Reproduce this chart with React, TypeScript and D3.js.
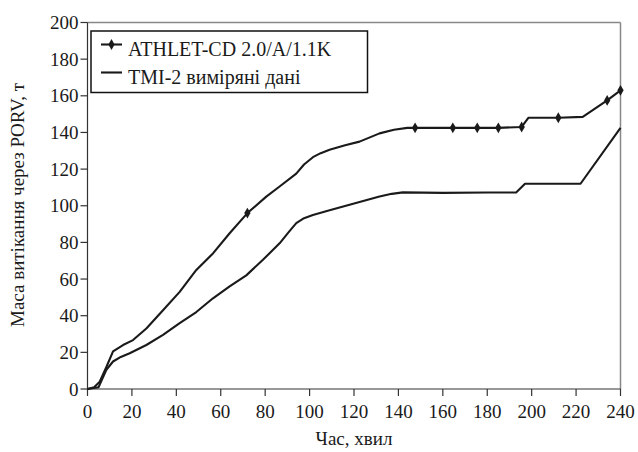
import React from "react";
import * as d3 from "d3";

const xTicks = [0, 20, 40, 60, 80, 100, 120, 140, 160, 180, 200, 220, 240];
const yTicks = [0, 20, 40, 60, 80, 100, 120, 140, 160, 180, 200];

const athletTime = [0, 3, 5.5, 8.5, 11.5, 16, 20.5, 26.5, 34, 41.5, 49, 56.5, 64, 72, 80.5, 86.5, 94, 97.5, 101.5, 105, 109, 116, 122.5, 131.5, 138, 144, 147.5, 164.5, 175.5, 185, 195.5, 198.5, 212, 223, 234, 240];
const athletMass = [0, 1, 4, 12, 20.5, 24, 26.7, 33, 43, 53, 65, 74, 85, 96, 105, 110.5, 117.5, 122.5, 126.5, 128.7, 130.5, 133, 135, 139.5, 141.5, 142.5, 142.5, 142.5, 142.5, 142.5, 143, 148, 148, 148.5, 157.5, 163];
const athletMarkTime = [72, 147.5, 164.5, 175.5, 185, 195.5, 212, 234, 240];
const athletMarkMass = [96, 142.5, 142.5, 142.5, 142.5, 143, 148, 157.5, 163];

const tmiTime = [0, 5, 8.5, 11.5, 15, 19, 26.5, 34, 41.5, 49, 56.5, 64, 71.5, 79, 86.5, 90.5, 94, 97.5, 101.5, 109, 122.5, 131.5, 137, 142, 160, 180, 193, 197, 210, 222, 240];
const tmiMass = [0, 1, 10.5, 15, 17.5, 19.5, 24, 29.5, 36, 42, 49.5, 56, 62, 70.5, 79.5, 85.5, 90.5, 93.2, 95, 97.5, 102, 105, 106.5, 107.3, 107, 107.2, 107.2, 112, 112, 112, 142.5];

const legendLabels = ["ATHLET-CD 2.0/A/1.1K", "TMI-2 виміряні дані"];
const xTitle = "Час, хвил";
const yTitle = "Маса витікання через PORV, т";

const FONT = "'Liberation Serif', 'Times New Roman', serif";

export default function App() {
  const W = 638, H = 452;
  const x = d3.scaleLinear().domain([0, 240]).range([87.5, 620.5]);
  const y = d3.scaleLinear().domain([0, 200]).range([389, 22.5]);
  const line = d3.line<[number, number]>().x(d => x(d[0])).y(d => y(d[1]));
  const athlet = athletTime.map((t, i) => [t, athletMass[i]] as [number, number]);
  const tmi = tmiTime.map((t, i) => [t, tmiMass[i]] as [number, number]);
  const diamond = d3.symbol().type(d3.symbolDiamond).size(34)() as string;
  const ink = "#1a1a1a";

  return (
    <svg width={W} height={H} style={{ position: "absolute", left: 0, top: 0, background: "#fff" }} fontFamily={FONT}>
      {/* frame */}
      <line x1={x(0)} x2={x(240)} y1={y(200)} y2={y(200)} stroke="#888" strokeWidth={1.5} />
      <line x1={x(240)} x2={x(240)} y1={y(200)} y2={y(0)} stroke="#888" strokeWidth={1.5} />
      <line x1={x(0)} x2={x(0)} y1={y(200)} y2={y(0)} stroke="#333" strokeWidth={1.2} />
      <line x1={x(0)} x2={x(240)} y1={y(0)} y2={y(0)} stroke="#333" strokeWidth={1.2} />
      {yTicks.map(v => (
        <g key={"y" + v}>
          <line x1={x(0) - 7} x2={x(0)} y1={y(v)} y2={y(v)} stroke="#333" strokeWidth={1.2} />
          <text x={x(0) - 9} y={y(v)} dy="0.35em" textAnchor="end" fontSize={19} fill={ink}>{v}</text>
        </g>
      ))}
      {xTicks.map(v => (
        <g key={"x" + v}>
          <line x1={x(v)} x2={x(v)} y1={y(0)} y2={y(0) + 7} stroke="#333" strokeWidth={1.2} />
          <text x={x(v)} y={418} textAnchor="middle" fontSize={19} fill={ink}>{v}</text>
        </g>
      ))}
      <text x={354} y={445} textAnchor="middle" fontSize={19} fill={ink}>{xTitle}</text>
      <text transform={`translate(24,${205}) rotate(-90)`} textAnchor="middle" fontSize={19} fill={ink}>{yTitle}</text>

      {/* series */}
      <path d={line(tmi) as string} fill="none" stroke={ink} strokeWidth={2.1} strokeLinejoin="round" />
      <path d={line(athlet) as string} fill="none" stroke={ink} strokeWidth={2.1} strokeLinejoin="round" />
      {athletMarkTime.map((t, i) => (
        <path key={"m" + i} d={diamond} transform={`translate(${x(t)},${y(athletMarkMass[i])})`} fill={ink} />
      ))}

      {/* legend */}
      <rect x={91} y={31} width={276.5} height={61.5} fill="#fff" stroke="#111" strokeWidth={1.5} />
      <line x1={101} x2={122} y1={44.5} y2={44.5} stroke={ink} strokeWidth={2.1} />
      <path d={diamond} transform="translate(111.5,44.5)" fill={ink} />
      <text x={128} y={56} fontSize={20} fill={ink}>{legendLabels[0]}</text>
      <line x1={101} x2={122} y1={72.5} y2={72.5} stroke={ink} strokeWidth={2.1} />
      <text x={128} y={84} fontSize={20} fill={ink}>{legendLabels[1]}</text>
    </svg>
  );
}
